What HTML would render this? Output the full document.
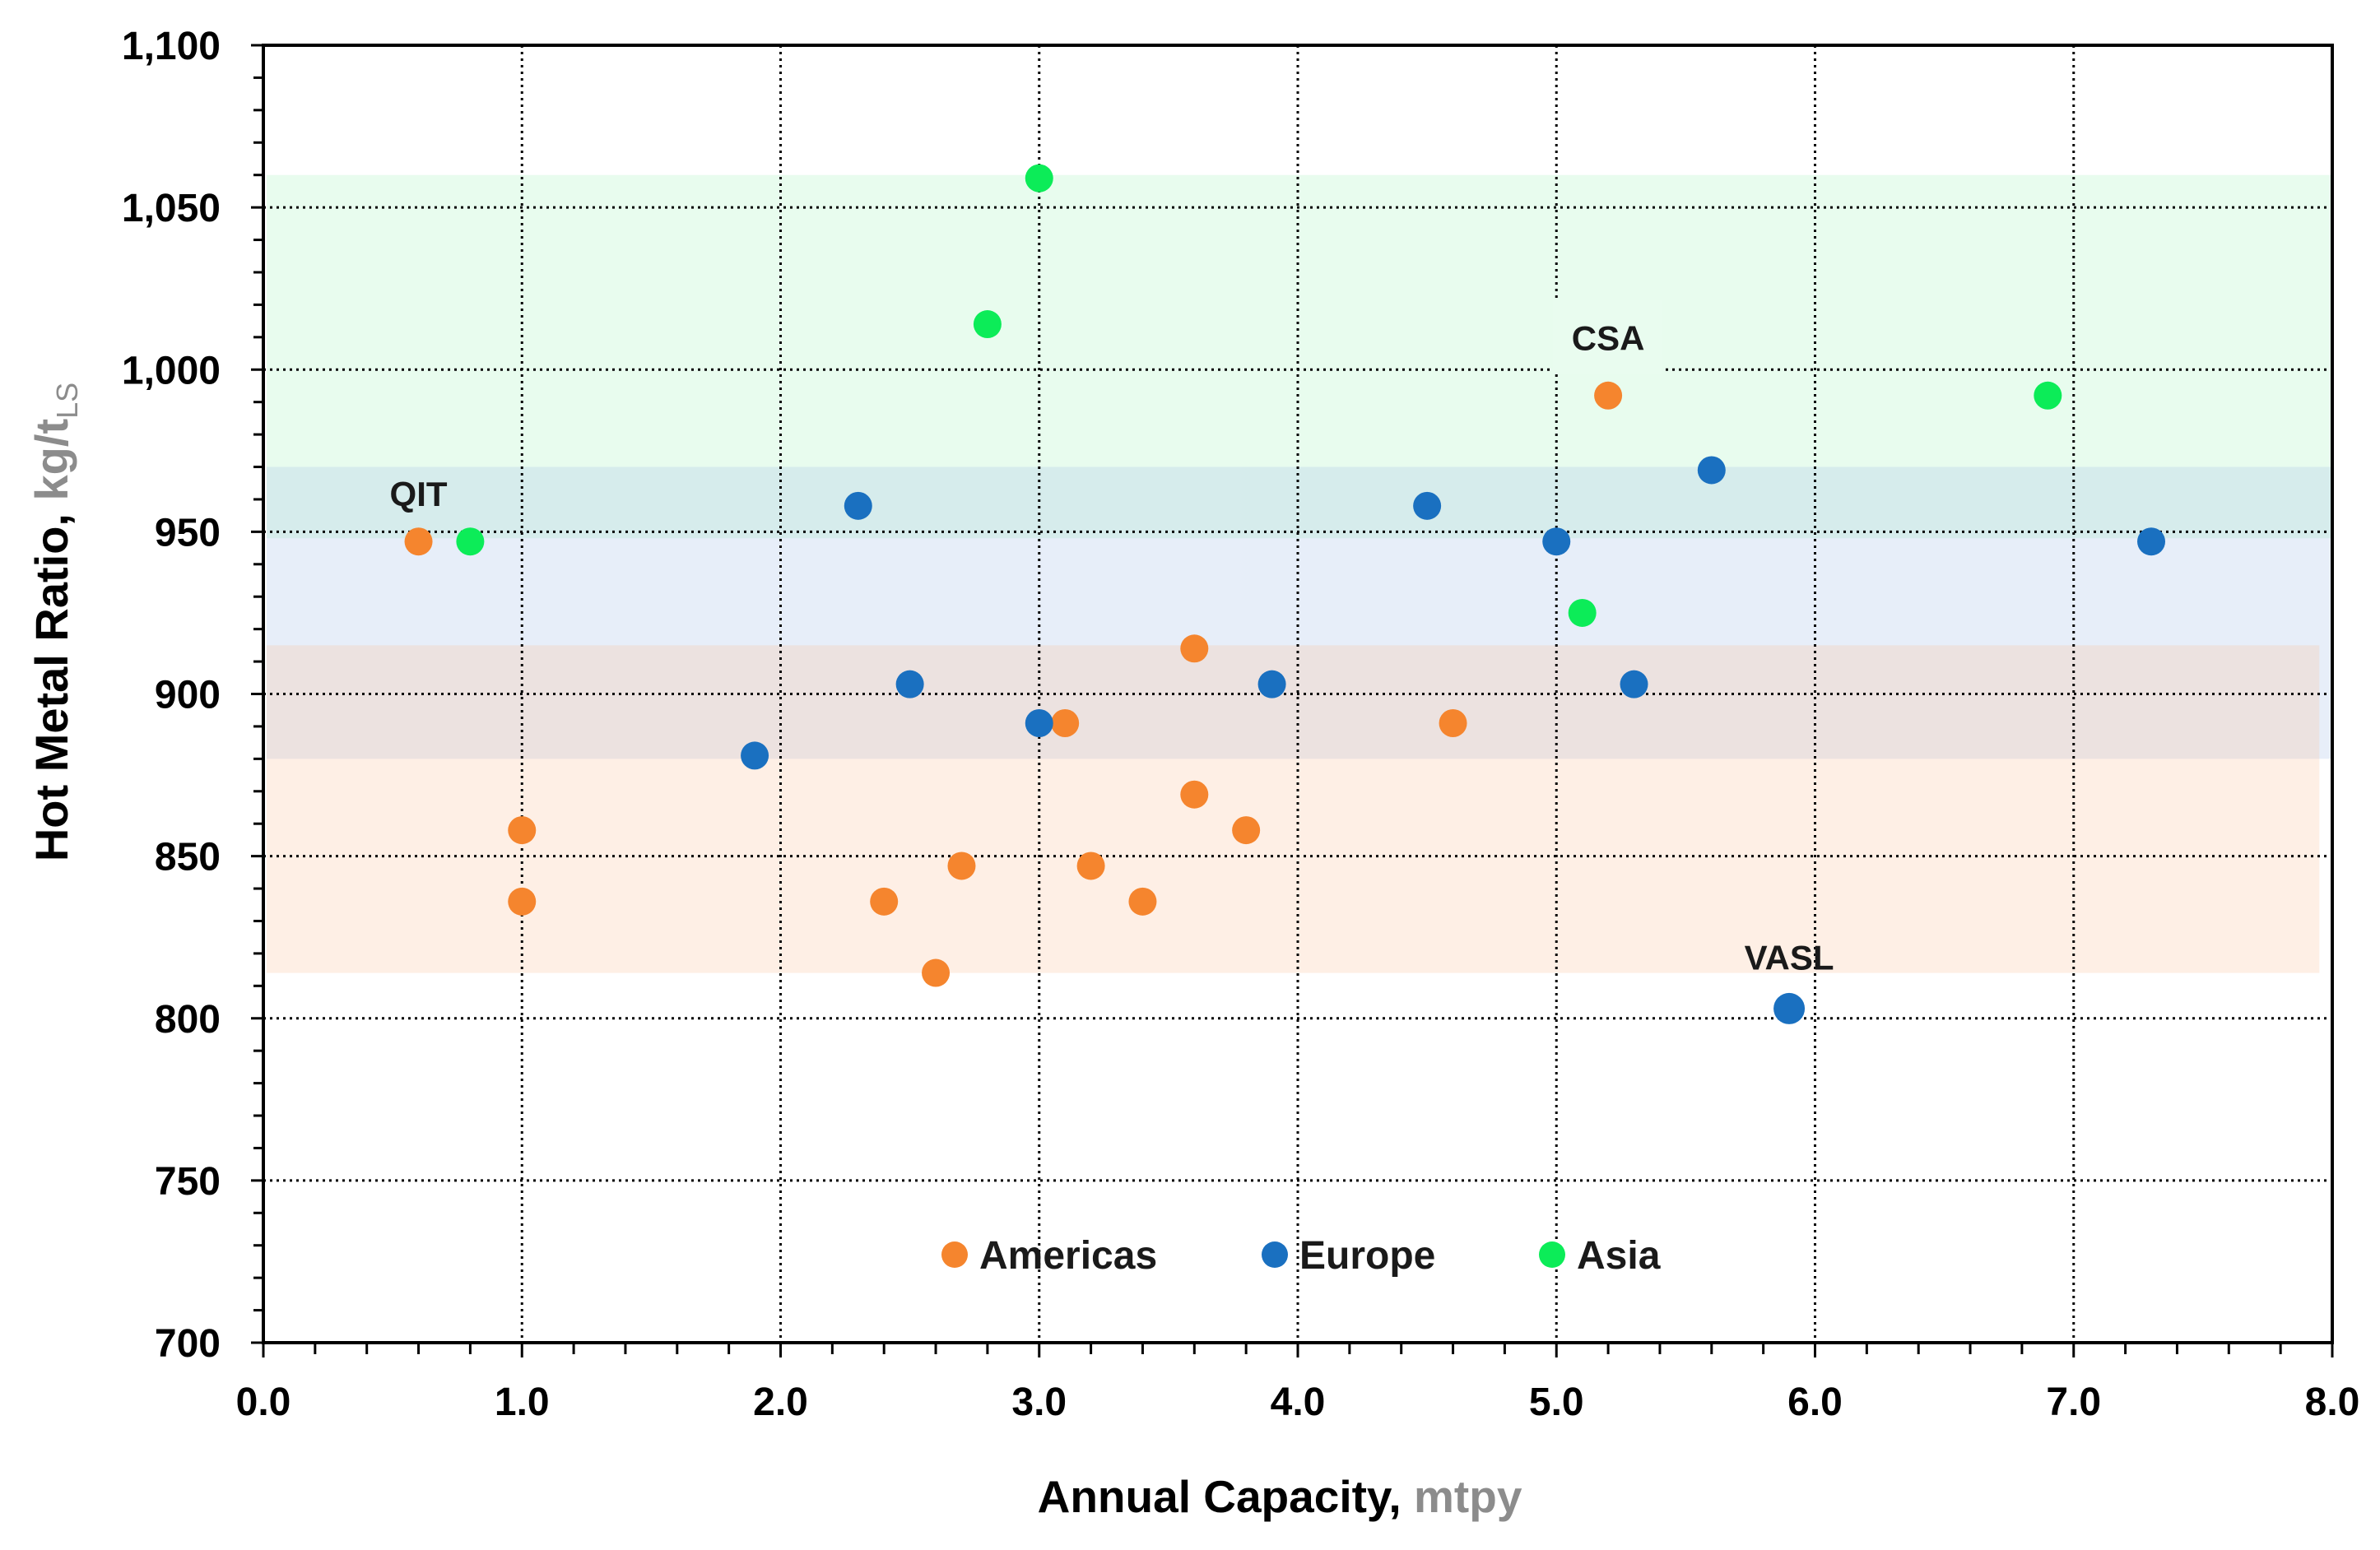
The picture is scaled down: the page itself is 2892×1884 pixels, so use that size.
<!DOCTYPE html>
<html><head><meta charset="utf-8"><style>
html,body{margin:0;padding:0;background:#fff;}
svg{display:block;font-family:"Liberation Sans",sans-serif;}
</style></head><body>
<svg id="chart" width="2892" height="1884" xmlns="http://www.w3.org/2000/svg"></svg>
<script>
const xTicks=[0,1,2,3,4,5,6,7,8];
const yTicks=[700,750,800,850,900,950,1000,1050,1100];
const americasX=[0.6,1.0,1.0,2.4,2.6,2.7,3.1,3.2,3.4,3.6,3.6,3.8,4.6,5.2];
const americasY=[947,858,836,836,814,847,891,847,836,914,869,858,891,992];
const europeX=[1.9,2.3,2.5,3.0,3.9,4.5,5.0,5.3,5.6,5.9,7.3];
const europeY=[881,958,903,891,903,958,947,903,969,803,947];
const asiaX=[0.8,2.8,3.0,5.1,6.9];
const asiaY=[947,1014,1059,925,992];
const bandNames=['asia-band','europe-band','americas-band'];
const bandLo=[948,880,814];
const bandHi=[1060,970,915];

const NS='http://www.w3.org/2000/svg';
const svg=document.getElementById('chart');
const L=320,R=2834,T=55,B=1632;
const sx=v=>L+(v-0)/(8-0)*(R-L);
const sy=v=>B-(v-700)/(1100-700)*(B-T);
function mk(tag,at,parent){const e=document.createElementNS(NS,tag);for(const k in at)e.setAttribute(k,at[k]);(parent||svg).appendChild(e);return e;}

const bandFill=['rgba(180,245,200,0.3)','rgba(170,195,235,0.28)','rgba(250,190,150,0.25)'];
for(let i=0;i<bandLo.length;i++){
  const r=mk('rect',{x:sx(0)+4,y:sy(bandHi[i]),width:(i==2?sx(7.95):sx(8))-sx(0)-4,height:sy(bandLo[i])-sy(bandHi[i]),fill:bandFill[i]});
  
  
}
for(const t of xTicks){ if(t===0||t===8) continue;
  const g=mk('line',{x1:sx(t),x2:sx(t),y1:T,y2:B,stroke:'#000','stroke-width':3,'stroke-dasharray':'3 5'});
  
  
}
for(const t of yTicks){ if(t===700||t===1100) continue;
  const g=mk('line',{x1:L,x2:R,y1:sy(t),y2:sy(t),stroke:'#000','stroke-width':3,'stroke-dasharray':'3 5'});
  
  
}
const box=mk('rect',{x:1887,y:365,width:133,height:90,fill:'#e9fcef'});


const fr=mk('rect',{x:L,y:T,width:R-L,height:B-T,fill:'none',stroke:'#000','stroke-width':4});


for(let v=700;v<=1100;v+=10){
  const maj=v%50===0;
  const tk=mk('line',{x1:L-(maj?15:12),x2:L,y1:sy(v),y2:sy(v),stroke:'#000','stroke-width':3});
  
  
}
for(const t of yTicks){
  const tx=mk('text',{x:268,y:sy(t)+17,'text-anchor':'end','font-size':48,'font-weight':'bold',fill:'#000'});
  tx.textContent=t.toLocaleString('en-US');
  
  
}
for(let i=0;i<=40;i++){
  const v=i*0.2;const maj=i%5===0;
  const tk=mk('line',{x1:sx(v),x2:sx(v),y1:B,y2:B+(maj?18:14),stroke:'#000','stroke-width':3});
  
  
}
for(const t of xTicks){
  const tx=mk('text',{x:sx(t),y:B+88,'text-anchor':'middle','font-size':48,'font-weight':'bold',fill:'#000'});
  tx.textContent=t.toFixed(1);
  
  
}
const xt=mk('text',{x:1555,y:1838,'text-anchor':'middle','font-size':55,'font-weight':'bold',fill:'#000'});
xt.innerHTML='Annual Capacity, <tspan fill="#8c8c8c">mtpy</tspan>';


const yt=mk('text',{x:0,y:0,'text-anchor':'middle','font-size':56,'font-weight':'bold',fill:'#000',transform:'translate(82,756) rotate(-90)'});
yt.innerHTML='Hot Metal Ratio, <tspan fill="#8c8c8c">kg/t</tspan><tspan fill="#8c8c8c" font-size="36" font-weight="normal" dy="12">LS</tspan>';


function series(xs,ys,col,name){
  const g=mk('g',{});
  
  
  for(let i=0;i<xs.length;i++){
    const c=mk('circle',{cx:sx(xs[i]),cy:sy(ys[i]),r:(name==='europe'&&ys[i]<810)?19:17,fill:col},g);
    
    
  }
}
series(americasX,americasY,'#f5852e','americas');
series(europeX,europeY,'#1a70c0','europe');
series(asiaX,asiaY,'#0cec58','asia');
const ann=[['QIT',0.6,958,'qit-label'],['CSA',5.2,1006,'csa-label'],['VASL',5.9,815,'vasl-label']];
for(const a of ann){
  const t=mk('text',{x:sx(a[1]),y:sy(a[2]),'text-anchor':'middle','font-size':42,'font-weight':'bold',fill:'#1a1a1a'});
  t.textContent=a[0];
  
  
}
const leg=[['Americas','#f5852e',1160],['Europe','#1a70c0',1549],['Asia','#0cec58',1886]];
for(const l of leg){
  const g=mk('g',{});
  
  
  mk('circle',{cx:l[2],cy:1525,r:16,fill:l[1]},g);
  const t=mk('text',{x:l[2]+30,y:1542,'font-size':48,'font-weight':'bold',fill:'#1a1a1a'},g);
  t.textContent=l[0];
}
</script>
</body></html>
